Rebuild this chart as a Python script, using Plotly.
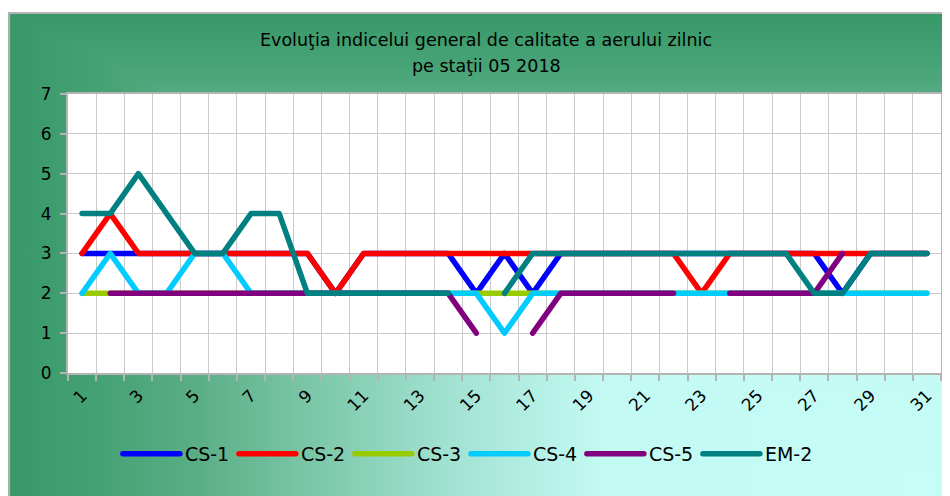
import base64
import plotly.graph_objects as go

days = list(range(1, 32))
tick_days = list(range(1, 32, 2))
tick_labels = [str(d) for d in tick_days]

cs1 = [3, 3, 3, 3, 3, 3, 3, 3, 3, 2, 3, 3, 3, 3, 2, 3, 2, 3, 3, 3, 3, 3, 3, 3, 3, 3, 3, 2, 3, 3, 3]
cs2 = [3, 4, 3, 3, 3, 3, 3, 3, 3, 2, 3, 3, 3, 3, 3, 3, 3, 3, 3, 3, 3, 3, 2, 3, 3, 3, 3, 3, 3, 3, 3]
cs3 = [2] * 31
cs4 = [2, 3, 2, 2, 3, 3, 2, 2, 2, 2, 2, 2, 2, 2, 2, 1, 2, 2, 2, 2, 2, 2, 2, 2, 2, 2, 2, 2, 2, 2, 2]
cs5 = [None, 2, 2, 2, 2, 2, 2, 2, 2, 2, 2, 2, 2, 2, 1, None, 1, 2, 2, 2, 2, 2, None, 2, 2, 2, 2, 3, None, None, None]
em2 = [4, 4, 5, 4, 3, 3, 4, 4, 2, 2, 2, 2, 2, 2, None, 2, 3, 3, 3, 3, 3, 3, 3, 3, 3, 3, 2, 2, 3, 3, 3]

series_names = ["CS-1", "CS-2", "CS-3", "CS-4", "CS-5", "EM-2"]
series_values = [cs1, cs2, cs3, cs4, cs5, em2]
series_colors = ["#0000ff", "#ff0000", "#99cc00", "#00ccff", "#800080", "#008080"]

title_line1 = "Evoluţia indicelui general de calitate a aerului zilnic"
title_line2 = "pe staţii 05 2018"

FONT = "DejaVu Sans"

# figure geometry (px, figure coordinates; page has an 8px body margin)
FW, FH = 942, 488
ML, MR, MT, MB = 60, 7, 86, 123
PW = FW - ML - MR
PH = FH - MT - MB


def px_x(fx):
    return (fx - ML) / PW


def px_y(fy):
    return (FH - MB - fy) / PH


# background gradient (corner/path style) as an SVG image
BX0, BY0, BW, BH = 0, 4, 942, 484
stops = ('<stop offset="0" stop-color="#c6fdf7"/>'
         '<stop offset="0.37" stop-color="#c2f9f2"/>'
         '<stop offset="0.53" stop-color="#a2e2d2"/>'
         '<stop offset="0.69" stop-color="#78c4a4"/>'
         '<stop offset="0.80" stop-color="#5aae86"/>'
         '<stop offset="0.90" stop-color="#45a274"/>'
         '<stop offset="1" stop-color="#389868"/>')
svg = (f'<svg xmlns="http://www.w3.org/2000/svg" width="{BW}" height="{BH}" '
       f'viewBox="0 0 {BW} {BH}" preserveAspectRatio="none">'
       f'<defs><linearGradient id="h" x1="1" y1="0" x2="0" y2="0">{stops}</linearGradient>'
       f'<linearGradient id="v" x1="0" y1="1" x2="0" y2="0">{stops}</linearGradient></defs>'
       f'<rect x="0" y="0" width="{BW}" height="{BH}" fill="url(#h)"/>'
       f'<polygon points="{BW},{BH} {BW},0 0,0" fill="url(#v)"/>'
       f'<path d="M1,{BH} V1 H{BW}" stroke="#b4b4b4" stroke-width="2" fill="none"/>'
       f'</svg>')
bg_uri = "data:image/svg+xml;base64," + base64.b64encode(svg.encode("utf-8")).decode("ascii")

fig = go.Figure()
for name, vals, col in zip(series_names, series_values, series_colors):
    fig.add_trace(go.Scatter(
        x=days, y=vals, name=name, mode="lines",
        line=dict(color=col, width=5.5),
        connectgaps=False,
    ))

fig.update_layout(
    width=FW, height=FH,
    margin=dict(l=ML, r=MR, t=MT, b=MB, pad=0),
    paper_bgcolor="white",
    plot_bgcolor="white",
    font=dict(family=FONT, color="black", size=16),
    showlegend=True,
    legend=dict(
        orientation="h",
        x=px_x(110), xanchor="left",
        y=px_y(427), yanchor="top",
        bgcolor="rgba(0,0,0,0)",
        font=dict(family=FONT, size=19, color="black"),
        itemwidth=57,
        entrywidth=116 - 57 - 15,
        tracegroupgap=0,
    ),
    images=[dict(
        source=bg_uri, xref="paper", yref="paper",
        x=px_x(BX0), y=px_y(BY0),
        sizex=BW / PW, sizey=BH / PH,
        xanchor="left", yanchor="top", sizing="stretch", layer="below",
    )],
    shapes=[dict(
        type="rect", xref="paper", yref="paper", x0=0, x1=1, y0=0, y1=1,
        fillcolor="white", line=dict(width=0), layer="below",
    )],
    annotations=[
        dict(text=title_line1, xref="paper", yref="paper", x=px_x(479), y=px_y(32),
             xanchor="center", yanchor="middle", showarrow=False,
             font=dict(family=FONT, size=17.5, color="black")),
        dict(text=title_line2, xref="paper", yref="paper", x=px_x(479), y=px_y(58),
             xanchor="center", yanchor="middle", showarrow=False,
             font=dict(family=FONT, size=17.5, color="black")),
    ],
)

fig.update_xaxes(
    range=[0.5, 31.5],
    tickmode="array", tickvals=tick_days, ticktext=tick_labels,
    tickangle=-45, ticks="", showgrid=False, zeroline=False,
    tickfont=dict(family=FONT, size=17, color="black"),
    ticklabelstandoff=4,
    showline=True, linecolor="#b4b4b4", linewidth=2, mirror=True,
    minor=dict(tickmode="array", tickvals=[d + 0.5 for d in range(0, 32)],
               ticks="outside", ticklen=6, tickcolor="#b4b4b4", tickwidth=2,
               showgrid=True, gridcolor="#cacaca", gridwidth=1),
    fixedrange=True,
)
fig.update_yaxes(
    range=[0, 7], tickmode="linear", tick0=0, dtick=1,
    ticks="outside", ticklen=6, tickcolor="#b4b4b4", tickwidth=2,
    showgrid=True, gridcolor="#cacaca", gridwidth=1, zeroline=False,
    tickfont=dict(family=FONT, size=17, color="black"),
    ticklabelstandoff=5,
    showline=True, linecolor="#b4b4b4", linewidth=2, mirror=True,
    fixedrange=True,
)

# rounded line ends/joins as in the original spreadsheet chart
round_caps = """
(function(){
  function rc(){
    var gd = document.getElementById('{plot_id}');
    if(!gd) return;
    gd.querySelectorAll('.scatterlayer path.js-line, .legend path.js-line').forEach(function(p){
      p.style.strokeLinecap = 'round';
      p.style.strokeLinejoin = 'round';
    });
  }
  rc(); setTimeout(rc, 0); setTimeout(rc, 150);
})();
"""

fig.write_html("out.html", post_script=round_caps)
